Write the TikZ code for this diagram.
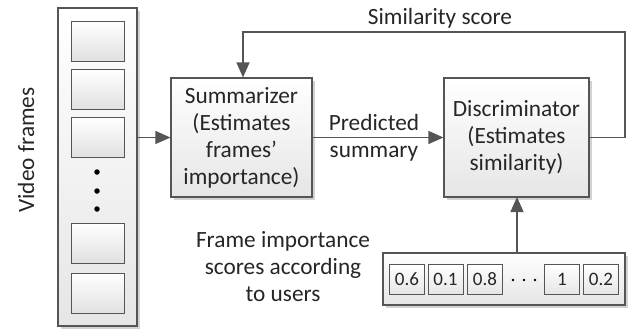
\documentclass[tikz,border=0pt]{standalone}
\usepackage{fontspec}
\setmainfont{Carlito}
\usetikzlibrary{shadows,arrows.meta}
\definecolor{edge}{HTML}{555555}
\definecolor{txt}{HTML}{262626}
\tikzset{
  blk/.style={draw=edge, line width=1.2pt, top color=white, bottom color=black!10,
    drop shadow={shadow xshift=2.5pt, shadow yshift=-2.5pt, fill=black!35, opacity=0.5},
    inner sep=0pt, text=txt},
  cell/.style={draw=edge, line width=1pt, top color=white, bottom color=black!10,
    inner sep=0pt, minimum width=35pt, minimum height=30pt, text=txt, font=\fontsize{19}{22}\selectfont},
  frm/.style={draw=edge, line width=1pt, top color=white, bottom color=black!12,
    minimum width=53pt, minimum height=40pt, inner sep=0pt},
  lbl/.style={text=txt, font=\fontsize{23.3}{27}\selectfont, align=center, inner sep=0pt},
  arr/.style={draw=edge, line width=1.3pt, -{Triangle[length=15pt,width=13pt]}},
  dot/.style={circle, fill=black, inner sep=0pt, minimum size=5.5pt},
  sdot/.style={circle, fill=black, inner sep=0pt, minimum size=2.8pt}
}
\begin{document}
\begin{tikzpicture}[x=1pt,y=-1pt]
\useasboundingbox (0,0) rectangle (629,330);
% video frames column
\node[blk, minimum width=79pt, minimum height=318pt] (vf) at (97.5,167) {};
\node[frm] (f1) at (97.5,41) {};
\node[frm] (f2) at (97.5,89) {};
\node[frm] (f3) at (97.5,137) {};
\node[frm] (f4) at (97.5,243) {};
\node[frm] (f5) at (97.5,293.5) {};
\node[dot] (d1) at (97,172) {};
\node[dot] (d2) at (97,191) {};
\node[dot] (d3) at (97,209) {};
\node[lbl, rotate=90] (vlab) at (26,150) {Video frames};
% summarizer
\node[blk, lbl, minimum width=141pt, minimum height=119pt] (sum) at (241.5,137.5)
  {Summarizer\\(Estimates\\frames'\\importance)};
% discriminator
\node[blk, lbl, minimum width=145pt, minimum height=119pt] (dis) at (516.5,137.5)
  {Discriminator\\(Estimates\\similarity)};
% scores
\node[blk, minimum width=242pt, minimum height=52pt] (sc) at (504,279) {};
\node[cell] (c1) at (407,279.5) {0.6};
\node[cell] (c2) at (445.5,279.5) {0.1};
\node[cell] (c3) at (485,279.5) {0.8};
\node[cell] (c4) at (562,279.5) {1};
\node[cell] (c5) at (601,279.5) {0.2};
\node[sdot] (s1) at (513,280) {};
\node[sdot] (s2) at (524,280) {};
\node[sdot] (s3) at (535,280) {};
% labels
\node[lbl] (fis) at (283,267) {Frame importance\\scores according\\to users};
\node[lbl] (ss) at (440,18) {Similarity score};
\node[lbl] (ps) at (374,137.5) {Predicted\\summary};
% connectors
\coordinate (fbR) at (625,32);
\coordinate (fbL) at (243,32);
\draw[arr] (vf.east |- sum.west) -- (sum.west);
\draw[arr] (sum.east) -- (dis.west);
\draw[arr] (sc.north -| 517,0) -- (517,197);
\draw[arr] (dis.east) -- (dis.east -| fbR) -- (fbR) -- (fbL) -- (fbL |- sum.north);
\end{tikzpicture}
\end{document}
